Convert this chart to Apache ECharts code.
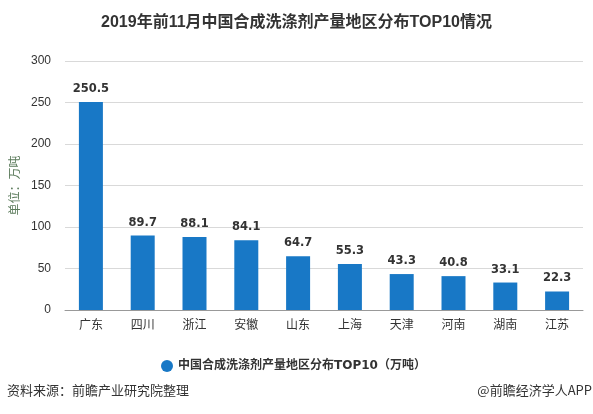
<!DOCTYPE html>
<html><head><meta charset="utf-8">
<script src="https://cdn.jsdelivr.net/npm/echarts@6/dist/echarts.min.js"></script>
<style>html,body{margin:0;padding:0;background:#fff}#c{width:593px;height:414px}</style>
</head><body><div id="c"></div>
<script>
var categories = ['广东','四川','浙江','安徽','山东','上海','天津','河南','湖南','江苏'];
var values = [250.5, 89.7, 88.1, 84.1, 64.7, 55.3, 43.3, 40.8, 33.1, 22.3];
var yTicks = [0, 50, 100, 150, 200, 250, 300];
var seriesName = '中国合成洗涤剂产量地区分布TOP10（万吨）';
var chart = echarts.init(document.getElementById('c'));
chart.setOption({
  backgroundColor:'#fff',
  title:{text:'2019年前11月中国合成洗涤剂产量地区分布TOP10情况',left:'center',top:10,
    textStyle:{fontSize:16,fontWeight:'bold',color:'#333',fontFamily:'Liberation Sans, Noto Sans CJK SC'}},
  grid:{left:65,right:10,top:61,bottom:104},
  legend:{top:355,left:156,icon:'circle',itemWidth:12,itemHeight:12,itemGap:10,
    textStyle:{fontSize:12,fontWeight:'bold',color:'#333',fontFamily:'DejaVu Sans, Noto Sans CJK SC'},data:[seriesName]},
  xAxis:{type:'category',data:categories,
    axisLine:{lineStyle:{color:'#999'}},
    axisTick:{alignWithLabel:true,lineStyle:{color:'#999'}},
    axisLabel:{color:'#333',fontSize:12,margin:8,fontFamily:'Noto Sans CJK SC'}},
  yAxis:{type:'value',min:yTicks[0],max:yTicks[yTicks.length-1],interval:50,
    name:'单位：万吨',nameLocation:'middle',nameGap:40,nameRotate:90,
    nameTextStyle:{color:'#5b7b5b',fontSize:12,fontFamily:'Noto Sans CJK SC'},
    axisLine:{show:false},axisTick:{show:false},
    axisLabel:{color:'#333',fontSize:12,margin:14},
    splitLine:{lineStyle:{color:'#d9d9d9'}}},
  series:[{name:seriesName,type:'bar',data:values,barWidth:24,
    itemStyle:{color:'#1878c6'},
    label:{show:true,position:'top',distance:7,fontWeight:'bold',fontSize:11.5,color:'#333',fontFamily:'DejaVu Sans'}}],
  graphic:[
    {type:'text',left:7,top:384,style:{text:'资料来源：前瞻产业研究院整理',fontSize:13,fill:'#333',fontFamily:'Noto Sans CJK SC'}},
    {type:'text',right:1,top:384,style:{text:'@前瞻经济学人APP',fontSize:13,fill:'#333',fontFamily:'Noto Sans CJK SC'}}
  ]
});
</script></body></html>
